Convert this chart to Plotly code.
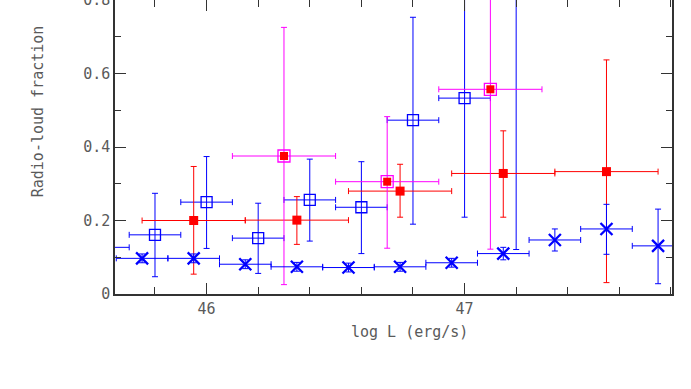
import plotly.graph_objects as go

# blue crosses (bins of 0.2 in log L)
x_cross = [45.75, 45.95, 46.15, 46.35, 46.55, 46.75, 46.95, 47.15, 47.35, 47.55, 47.75]
y_cross = [0.097, 0.097, 0.081, 0.074, 0.072, 0.074, 0.085, 0.110, 0.147, 0.177, 0.131]
cross_up = [0.012, 0.012, 0.012, 0.012, 0.012, 0.012, 0.012, 0.017, 0.030, 0.067, 0.100]
cross_dn = [0.012, 0.012, 0.012, 0.012, 0.012, 0.012, 0.012, 0.017, 0.030, 0.069, 0.103]
cross_dx = [0.1] * len(x_cross)

# blue open squares
x_open = [45.6, 45.8, 46.0, 46.2, 46.4, 46.6, 46.8, 47.0, 47.2]
y_open = [0.127, 0.161, 0.250, 0.152, 0.256, 0.236, 0.473, 0.533, 0.900]
open_up = [0.100, 0.113, 0.124, 0.095, 0.111, 0.124, 0.280, 0.400, 0.300]
open_dn = [0.080, 0.114, 0.126, 0.096, 0.112, 0.126, 0.283, 0.324, 0.779]
open_dx = [0.1] * len(x_open)

# red filled squares
x_red = [45.95, 46.35, 46.75, 47.15, 47.55]
y_red = [0.200, 0.201, 0.280, 0.328, 0.333]
red_up = [0.147, 0.064, 0.073, 0.116, 0.304]
red_dn = [0.146, 0.066, 0.071, 0.119, 0.302]
red_dx = [0.2] * len(x_red)

# magenta boxed points
x_mag = [46.3, 46.7, 47.1]
y_mag = [0.3755, 0.3056, 0.557]
mag_up = [0.350, 0.177, 0.350]
mag_dn = [0.350, 0.181, 0.435]
mag_dx = [0.2] * len(x_mag)

BLUE = "#0000ff"
RED = "#ff0000"
MAG = "#ff00ff"


def errs(up, dn, dx, color):
    ey = dict(type="data", symmetric=False, array=up, arrayminus=dn,
              color=color, thickness=1, width=3)
    ex = dict(type="data", array=dx, color=color, thickness=1, width=3)
    return ey, ex


fig = go.Figure()

ey, ex = errs(open_up, open_dn, open_dx, BLUE)
fig.add_trace(go.Scatter(
    x=x_open, y=y_open, mode="markers", error_y=ey, error_x=ex,
    marker=dict(symbol="square-open", size=11, color=BLUE, line=dict(width=1.3)),
))

ey, ex = errs(red_up, red_dn, red_dx, RED)
fig.add_trace(go.Scatter(
    x=x_red, y=y_red, mode="markers", error_y=ey, error_x=ex,
    marker=dict(symbol="square", size=9, color=RED, line=dict(width=0)),
))

ey, ex = errs(mag_up, mag_dn, mag_dx, MAG)
fig.add_trace(go.Scatter(
    x=x_mag, y=y_mag, mode="markers", error_y=ey, error_x=ex,
    marker=dict(symbol="square-open", size=12, color=MAG, line=dict(width=1.3)),
))
fig.add_trace(go.Scatter(
    x=x_mag, y=y_mag, mode="markers",
    marker=dict(symbol="square", size=8, color=RED, line=dict(width=0)),
))

ey, ex = errs(cross_up, cross_dn, cross_dx, BLUE)
fig.add_trace(go.Scatter(
    x=x_cross, y=y_cross, mode="markers", error_y=ey, error_x=ex,
    marker=dict(symbol="x-thin", size=12, color=BLUE, line=dict(width=2.3, color=BLUE)),
))

axis_font = dict(family="DejaVu Sans Mono", size=15, color="#5a5a5a")

fig.update_layout(
    width=691,
    height=389,
    margin=dict(l=115, r=19, t=0, b=95),
    plot_bgcolor="white",
    paper_bgcolor="white",
    showlegend=False,
    xaxis=dict(
        range=[45.645, 47.804], tick0=46, dtick=1, ticks="inside", ticklen=11,
        tickcolor="#333333", showline=True, linecolor="#333333", linewidth=1.5,
        mirror="ticks", showgrid=False, zeroline=False, tickfont=axis_font,
        automargin=False,
        minor=dict(dtick=0.2, tick0=46, ticks="inside", ticklen=7, tickcolor="#333333"),
    ),
    yaxis=dict(
        range=[0, 0.8], tick0=0, dtick=0.2, ticks="inside", ticklen=11,
        tickcolor="#333333", showline=True, linecolor="#333333", linewidth=1.5,
        mirror="ticks", showgrid=False, zeroline=False, tickfont=axis_font,
        automargin=False, ticklabeloverflow="allow",
        minor=dict(dtick=0.1, ticks="inside", ticklen=6, tickcolor="#333333"),
    ),
    annotations=[
        dict(text="log L (erg/s)", x=0.528, y=-0.129, xref="paper", yref="paper",
             showarrow=False, font=axis_font, xanchor="center", yanchor="middle"),
        dict(text="Radio-loud fraction", x=-0.138, y=0.622, xref="paper", yref="paper",
             showarrow=False, font=axis_font, textangle=-90,
             xanchor="center", yanchor="middle"),
    ],
)

# page body has a default 8px margin; drop it so the figure sits at the corner
fig.write_html(
    "out.html",
    config={"displayModeBar": False},
    post_script="document.body.style.margin='0';",
)
